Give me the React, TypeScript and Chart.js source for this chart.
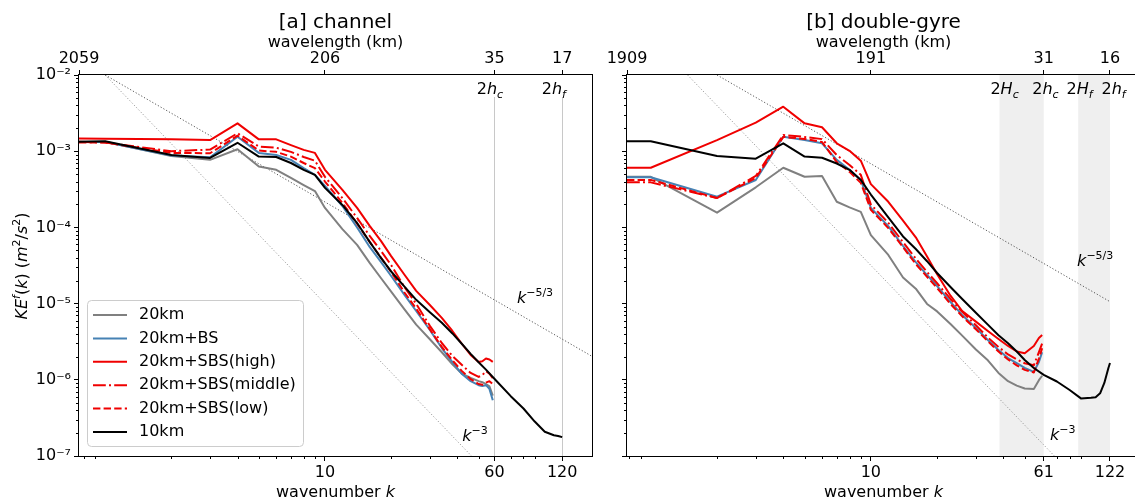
import React, { useEffect, useRef } from 'react';
import { Chart, registerables } from 'chart.js';

Chart.register(...registerables);

const FONT = "'DejaVu Sans', 'Liberation Sans', sans-serif";
Chart.defaults.font.family = FONT;
Chart.defaults.color = '#000';

/* ---------------- [a] channel ---------------- */
const kA20 = [0.76, 1, 2, 3, 4, 5, 6, 7, 8, 9, 10, 12, 14, 16, 18, 20, 23, 26, 30, 34, 38, 42, 46, 50, 52, 54, 56, 58];
const a20km = [1.33e-3, 1.33e-3, 8.65e-4, 7.7e-4, 1.06e-3, 6.3e-4, 5.7e-4, 4.45e-4, 3.6e-4, 3.0e-4, 1.8e-4, 9.5e-5, 5.9e-5, 3.4e-5, 2.15e-5, 1.44e-5, 8.4e-6, 5.3e-6, 3.4e-6, 2.3e-6, 1.6e-6, 1.2e-6, 1.06e-6, 9.6e-7, 9.3e-7, 8.8e-7, 8.2e-7, 6.2e-7];
const a20kmBS = [1.32e-3, 1.32e-3, 8.8e-4, 8.3e-4, 1.55e-3, 9.5e-4, 8.9e-4, 7.7e-4, 6.0e-4, 4.9e-4, 3.5e-4, 1.91e-4, 1.0e-4, 5.5e-5, 3.5e-5, 2.3e-5, 1.3e-5, 8.0e-6, 4.5e-6, 2.61e-6, 1.71e-6, 1.19e-6, 9.6e-7, 8.5e-7, 8.3e-7, 8.5e-7, 7.6e-7, 5.4e-7];
const a20kmHigh = [1.47e-3, 1.46e-3, 1.44e-3, 1.4e-3, 2.32e-3, 1.43e-3, 1.43e-3, 1.2e-3, 1.04e-3, 9.5e-4, 5.7e-4, 3.1e-4, 1.8e-4, 1.04e-4, 6.6e-5, 4.2e-5, 2.39e-5, 1.47e-5, 9.6e-6, 6.5e-6, 4.37e-6, 2.95e-6, 2.12e-6, 1.71e-6, 1.75e-6, 1.9e-6, 1.85e-6, 1.72e-6];
const a20kmMid = [1.33e-3, 1.3e-3, 1.0e-3, 1.05e-3, 1.72e-3, 1.15e-3, 1.11e-3, 9.8e-4, 8.4e-4, 7.5e-4, 4.6e-4, 2.43e-4, 1.33e-4, 7.7e-5, 4.9e-5, 3.2e-5, 1.65e-5, 9.9e-6, 5.1e-6, 3.04e-6, 2.05e-6, 1.56e-6, 1.23e-6, 1.09e-6, 1.15e-6, 1.3e-6, 1.2e-6, 1.05e-6];
const a20kmLow = [1.3e-3, 1.3e-3, 9.5e-4, 9.4e-4, 1.6e-3, 1.02e-3, 9.8e-4, 8.5e-4, 7.0e-4, 6.0e-4, 4.0e-4, 2.1e-4, 1.12e-4, 6.4e-5, 4.0e-5, 2.6e-5, 1.4e-5, 8.6e-6, 4.6e-6, 2.7e-6, 1.8e-6, 1.3e-6, 1.02e-6, 8.8e-7, 8.6e-7, 9.2e-7, 9.6e-7, 8.8e-7];
const kA10 = [0.76, 1, 2, 3, 4, 5, 6, 7, 8, 9, 10, 12, 14, 16, 18, 20, 23, 26, 30, 34, 38, 42, 46, 50, 54, 60, 70, 80, 90, 100, 110, 115, 120];
const a10km = [1.33e-3, 1.35e-3, 8.9e-4, 8.15e-4, 1.29e-3, 8.5e-4, 8.4e-4, 7.0e-4, 5.7e-4, 4.9e-4, 3.3e-4, 1.97e-4, 1.14e-4, 6.4e-5, 3.96e-5, 2.64e-5, 1.67e-5, 1.12e-5, 7.7e-6, 5.6e-6, 4.06e-6, 2.95e-6, 2.19e-6, 1.7e-6, 1.36e-6, 9.8e-7, 6.1e-7, 4.2e-7, 2.83e-7, 2.08e-7, 1.87e-7, 1.83e-7, 1.77e-7];
const aRef53K = [1, 200];
const aRef53E = [1e-2, 1.46e-6];
const aRef3K = [1, 60];
const aRef3E = [1e-2, 4.63e-8];
const aBottomTicks = [10, 59, 120];
const aBottomLabels = ['10', '60', '120'];
const aTopTicks = [0.76, 10, 59, 120];
const aTopLabels = ['2059', '206', '35', '17'];

/* ---------------- [b] double-gyre ---------------- */
const kB20 = [0.78, 1, 2, 3, 4, 5, 6, 7, 8, 9, 10, 12, 14, 16, 18, 20, 23, 26, 30, 34, 38, 42, 46, 50, 55, 58, 60];
const b20km = [4.62e-4, 4.62e-4, 1.56e-4, 3.36e-4, 6.07e-4, 4.62e-4, 4.73e-4, 2.17e-4, 1.83e-4, 1.6e-4, 7.9e-5, 4.35e-5, 2.2e-5, 1.57e-5, 9.9e-6, 7.9e-6, 5.4e-6, 3.8e-6, 2.5e-6, 1.8e-6, 1.23e-6, 9.6e-7, 8.4e-7, 7.7e-7, 7.6e-7, 9.9e-7, 1.13e-6];
const b20kmBS = [4.54e-4, 4.54e-4, 2.53e-4, 4.19e-4, 1.55e-3, 1.4e-3, 1.27e-3, 7.7e-4, 5.7e-4, 4.19e-4, 1.8e-4, 1.04e-4, 5.7e-5, 3.51e-5, 2.37e-5, 1.7e-5, 1.05e-5, 7.1e-6, 4.79e-6, 3.33e-6, 2.46e-6, 1.93e-6, 1.66e-6, 1.43e-6, 1.27e-6, 1.71e-6, 2.3e-6];
const b20kmHigh = [6.07e-4, 6.07e-4, 1.4e-3, 2.37e-3, 3.84e-3, 2.32e-3, 2.06e-3, 1.27e-3, 1.01e-3, 7.5e-4, 3.7e-4, 2.17e-4, 1.23e-4, 7.4e-5, 4.14e-5, 2.43e-5, 1.27e-5, 8.0e-6, 5.8e-6, 4.37e-6, 3.43e-6, 2.78e-6, 2.35e-6, 2.23e-6, 2.78e-6, 3.54e-6, 3.87e-6];
const b20kmMid = [3.9e-4, 3.9e-4, 2.43e-4, 4.73e-4, 1.63e-3, 1.54e-3, 1.44e-3, 8.9e-4, 6.6e-4, 4.9e-4, 2.0e-4, 1.15e-4, 6.4e-5, 3.9e-5, 2.6e-5, 1.85e-5, 1.15e-5, 7.8e-6, 5.2e-6, 3.6e-6, 2.7e-6, 2.15e-6, 1.85e-6, 1.65e-6, 1.55e-6, 2.3e-6, 3.0e-6];
const b20kmLow = [4.2e-4, 4.2e-4, 2.43e-4, 4.45e-4, 1.54e-3, 1.45e-3, 1.32e-3, 7.2e-4, 5.35e-4, 3.84e-4, 1.7e-4, 9.8e-5, 5.5e-5, 3.3e-5, 2.25e-5, 1.6e-5, 9.9e-6, 6.8e-6, 4.6e-6, 3.2e-6, 2.35e-6, 1.85e-6, 1.55e-6, 1.35e-6, 1.25e-6, 1.9e-6, 2.6e-6];
const kB10 = [0.78, 1, 2, 3, 4, 5, 6, 7, 8, 9, 10, 12, 14, 16, 18, 20, 23, 26, 30, 34, 38, 42, 46, 50, 55, 61, 70, 80, 90, 100, 105, 110, 115, 120, 122];
const b10km = [1.35e-3, 1.35e-3, 8.65e-4, 7.98e-4, 1.27e-3, 8.5e-4, 8.2e-4, 6.9e-4, 5.7e-4, 4.2e-4, 2.7e-4, 1.35e-4, 7.6e-5, 5.2e-5, 3.6e-5, 2.52e-5, 1.65e-5, 1.15e-5, 7.6e-6, 5.3e-6, 3.84e-6, 3.01e-6, 2.35e-6, 1.82e-6, 1.43e-6, 1.16e-6, 9.5e-7, 7.35e-7, 5.7e-7, 5.8e-7, 5.9e-7, 6.65e-7, 9.1e-7, 1.43e-6, 1.66e-6];
const bRef53K = [2, 122];
const bRef53E = [1e-2, 1.06e-5];
const bRef3K = [1.47, 80];
const bRef3E = [1e-2, 6.2e-8];
const bBottomTicks = [10, 61, 122];
const bBottomLabels = ['10', '61', '122'];
const bTopTicks = [0.78, 10, 61, 122];
const bTopLabels = ['1909', '191', '31', '16'];
const bBands = [[38.4, 61], [87.5, 122]];

/* ---------------- shared ---------------- */
const yTickValues = [1e-7, 1e-6, 1e-5, 1e-4, 1e-3, 1e-2];
const yTickLabels = ['10⁻⁷', '10⁻⁶', '10⁻⁵', '10⁻⁴', '10⁻³', '10⁻²'];
const legendLabels = ['20km', '20km+BS', '20km+SBS(high)', '20km+SBS(middle)', '20km+SBS(low)', '10km'];

const RED = '#f00000';
const styles = [
  { color: '#808080', dash: [] as number[] },
  { color: '#4682b4', dash: [] as number[] },
  { color: RED, dash: [] as number[] },
  { color: RED, dash: [12.8, 3.2, 2, 3.2] },
  { color: RED, dash: [7.4, 3.2] },
  { color: '#000000', dash: [] as number[] },
];

type Seg = { t: string; i?: boolean; s?: 'sup' | 'sub' };

function segFont(size: number, g: Seg) {
  const sz = g.s ? Math.round(size * 0.7) : size;
  return `${g.i ? 'italic ' : ''}${sz}px ${FONT}`;
}
function richWidth(ctx: CanvasRenderingContext2D, segs: Seg[], size: number) {
  let w = 0;
  for (const g of segs) {
    ctx.font = segFont(size, g);
    w += ctx.measureText(g.t).width;
  }
  return w;
}
function drawRich(ctx: CanvasRenderingContext2D, segs: Seg[], x: number, y: number, size: number, align: 'left' | 'center' | 'right' = 'left') {
  const w = richWidth(ctx, segs, size);
  let cx = align === 'center' ? x - w / 2 : align === 'right' ? x - w : x;
  ctx.textAlign = 'left';
  ctx.textBaseline = 'alphabetic';
  for (const g of segs) {
    ctx.font = segFont(size, g);
    const dy = g.s === 'sup' ? -size * 0.42 : g.s === 'sub' ? size * 0.22 : 0;
    ctx.fillText(g.t, cx, y + dy);
    cx += ctx.measureText(g.t).width;
  }
}

function series(label: string, ks: number[], vs: number[], idx: number) {
  const st = styles[idx];
  return {
    label,
    data: ks.map((k, i) => ({ x: k, y: vs[i] })),
    borderColor: st.color,
    borderWidth: 2,
    borderDash: st.dash,
    borderCapStyle: 'butt',
    borderJoinStyle: 'round',
    pointRadius: 0,
    fill: false,
    tension: 0,
    clip: 0,
    xAxisID: 'x',
    yAxisID: 'y',
  };
}
function refLine(ks: number[], es: number[], color: string) {
  return {
    label: 'ref',
    data: ks.map((k, i) => ({ x: k, y: es[i] })),
    borderColor: color,
    borderWidth: 1,
    borderDash: [1.2, 2],
    pointRadius: 0,
    fill: false,
    tension: 0,
    clip: 0,
    xAxisID: 'x',
    yAxisID: 'y',
  };
}

interface Note { segs: Seg[]; k: number; e?: number; top?: number; align: 'left' | 'center' }
interface PanelCfg {
  title: string;
  kMin: number;
  kMax: number;
  bottomTicks: number[];
  bottomLabels: string[];
  topTicks: number[];
  topLabels: string[];
  datasets: any[];
  yLabels: boolean;
  yWidth: number;
  padRight: number;
  canvasWidth: number;
  vlines: number[];
  bands: number[][];
  notes: Note[];
  legend: boolean;
}

const K53: Seg[] = [{ t: 'k', i: true }, { t: '−5/3', s: 'sup' }];
const K3: Seg[] = [{ t: 'k', i: true }, { t: '−3', s: 'sup' }];

const panelA: PanelCfg = {
  title: '[a] channel',
  kMin: 0.76,
  kMax: 164,
  bottomTicks: aBottomTicks,
  bottomLabels: aBottomLabels,
  topTicks: aTopTicks,
  topLabels: aTopLabels,
  datasets: [
    series(legendLabels[5], kA10, a10km, 5),
    series(legendLabels[4], kA20, a20kmLow, 4),
    series(legendLabels[3], kA20, a20kmMid, 3),
    series(legendLabels[2], kA20, a20kmHigh, 2),
    series(legendLabels[1], kA20, a20kmBS, 1),
    series(legendLabels[0], kA20, a20km, 0),
    refLine(aRef53K, aRef53E, '#555555'),
    refLine(aRef3K, aRef3E, '#9a9a9a'),
  ],
  yLabels: true,
  yWidth: 79,
  padRight: 8,
  canvasWidth: 600,
  vlines: [59, 120],
  bands: [],
  notes: [
    { segs: [{ t: '2' }, { t: 'h', i: true }, { t: 'c', i: true, s: 'sub' }], k: 56.3, top: 19, align: 'center' },
    { segs: [{ t: '2' }, { t: 'h', i: true }, { t: 'f', i: true, s: 'sub' }], k: 110, top: 19, align: 'center' },
    { segs: K53, k: 74.7, e: 1.02e-5, align: 'left' },
    { segs: K3, k: 42.1, e: 1.57e-7, align: 'left' },
  ],
  legend: true,
};

const panelB: PanelCfg = {
  title: '[b] double-gyre',
  kMin: 0.78,
  kMax: 167,
  bottomTicks: bBottomTicks,
  bottomLabels: bBottomLabels,
  topTicks: bTopTicks,
  topLabels: bTopLabels,
  datasets: [
    series(legendLabels[5], kB10, b10km, 5),
    series(legendLabels[4], kB20, b20kmLow, 4),
    series(legendLabels[3], kB20, b20kmMid, 3),
    series(legendLabels[2], kB20, b20kmHigh, 2),
    series(legendLabels[1], kB20, b20kmBS, 1),
    series(legendLabels[0], kB20, b20km, 0),
    refLine(bRef53K, bRef53E, '#555555'),
    refLine(bRef3K, bRef3E, '#9a9a9a'),
  ],
  yLabels: false,
  yWidth: 27,
  padRight: 5,
  canvasWidth: 545,
  vlines: [],
  bands: bBands,
  notes: [
    { segs: [{ t: '2' }, { t: 'H', i: true }, { t: 'c', i: true, s: 'sub' }], k: 40.5, top: 19, align: 'center' },
    { segs: [{ t: '2' }, { t: 'h', i: true }, { t: 'c', i: true, s: 'sub' }], k: 62.1, top: 19, align: 'center' },
    { segs: [{ t: '2' }, { t: 'H', i: true }, { t: 'f', i: true, s: 'sub' }], k: 88.8, top: 19, align: 'center' },
    { segs: [{ t: '2' }, { t: 'h', i: true }, { t: 'f', i: true, s: 'sub' }], k: 126.7, top: 19, align: 'center' },
    { segs: K53, k: 86.5, e: 3.11e-5, align: 'left' },
    { segs: K3, k: 65.1, e: 1.62e-7, align: 'left' },
  ],
  legend: false,
};

function axis(position: string, min: number, max: number, values: number[], labels: string[], size: number, pad: number) {
  const horizontal = position === 'top' || position === 'bottom';
  return {
    type: 'logarithmic',
    position,
    min,
    max,
    bounds: 'data',
    afterBuildTicks: (s: any) => {
      s.ticks = values.map((v) => ({ value: v }));
    },
    ticks: {
      autoSkip: false,
      maxRotation: 0,
      minRotation: 0,
      padding: pad,
      color: '#000',
      font: { size: 16, family: FONT },
      callback: (_v: any, i: number) => (labels[i] !== undefined ? labels[i] : ''),
    },
    grid: { display: true, drawOnChartArea: false, drawTicks: true, tickLength: 5, tickColor: '#000', tickWidth: 1, color: '#000' },
    border: { display: false },
    afterFit: (s: any) => {
      if (horizontal) s.height = size;
      else s.width = size;
    },
  };
}

function makePlugin(cfg: PanelCfg) {
  return {
    id: 'decor',
    beforeDatasetsDraw(chart: any) {
      const { ctx, chartArea: a } = chart;
      const xs = chart.scales.x;
      ctx.save();
      ctx.fillStyle = '#efefef';
      for (const b of cfg.bands) {
        const x0 = xs.getPixelForValue(b[0]);
        const x1 = xs.getPixelForValue(b[1]);
        ctx.fillRect(x0, a.top, x1 - x0, a.bottom - a.top);
      }
      ctx.strokeStyle = '#c8c8c8';
      ctx.lineWidth = 1;
      for (const k of cfg.vlines) {
        const px = Math.round(xs.getPixelForValue(k)) + 0.5;
        ctx.beginPath();
        ctx.moveTo(px, a.top + 22);
        ctx.lineTo(px, a.bottom);
        ctx.stroke();
      }
      ctx.restore();
    },
    afterDraw(chart: any) {
      const { ctx, chartArea: a } = chart;
      const xs = chart.scales.x;
      const ys = chart.scales.y;
      ctx.save();
      // frame
      ctx.strokeStyle = '#000';
      ctx.lineWidth = 1;
      ctx.strokeRect(Math.round(a.left) - 0.5, Math.round(a.top) - 0.5, Math.round(a.right - a.left) + 1, Math.round(a.bottom - a.top) + 1);
      // minor ticks
      ctx.beginPath();
      for (let n = -7; n < -2; n++) {
        for (let m = 2; m < 10; m++) {
          const py = Math.round(ys.getPixelForValue(m * Math.pow(10, n))) + 0.5;
          ctx.moveTo(a.left - 3, py);
          ctx.lineTo(a.left, py);
        }
      }
      const minorX: number[] = [];
      for (let n = -1; n < 3; n++) for (let m = 1; m < 10; m++) minorX.push(m * Math.pow(10, n));
      for (const v of minorX) {
        if (v < cfg.kMin || v > cfg.kMax) continue;
        if (Math.abs(Math.log10(v) - Math.round(Math.log10(v))) < 1e-9) continue;
        const px = xs.getPixelForValue(v);
        if (cfg.bottomTicks.some((t) => Math.abs(xs.getPixelForValue(t) - px) < 3)) continue;
        const rx = Math.round(px) + 0.5;
        ctx.moveTo(rx, a.bottom);
        ctx.lineTo(rx, a.bottom + 3);
      }
      ctx.stroke();

      const cx = (a.left + a.right) / 2;
      ctx.fillStyle = '#000';
      ctx.textAlign = 'center';
      ctx.textBaseline = 'alphabetic';
      ctx.font = `20px ${FONT}`;
      ctx.fillText(cfg.title, cx, 28);
      ctx.font = `16px ${FONT}`;
      ctx.fillText('wavelength (km)', cx, 47);
      drawRich(ctx, [{ t: 'wavenumber ' }, { t: 'k', i: true }], cx, 497, 16, 'center');

      if (cfg.yLabels) {
        ctx.save();
        ctx.translate(27, 266);
        ctx.rotate(-Math.PI / 2);
        drawRich(
          ctx,
          [
            { t: 'KE', i: true },
            { t: 'f', i: true, s: 'sup' },
            { t: '(' },
            { t: 'k', i: true },
            { t: ')' },
            { t: ' (' },
            { t: 'm', i: true },
            { t: '2', s: 'sup' },
            { t: '/' },
            { t: 's', i: true },
            { t: '2', s: 'sup' },
            { t: ')' },
          ],
          0,
          0,
          16,
          'center'
        );
        ctx.restore();
      }

      for (const nt of cfg.notes) {
        const x = xs.getPixelForValue(nt.k);
        const y = nt.top !== undefined ? a.top + nt.top : ys.getPixelForValue(nt.e);
        drawRich(ctx, nt.segs, x, y, 16, nt.align);
      }

      if (cfg.legend) {
        const bx = 87, by = 300, bw = 216, bh = 146, r = 4;
        ctx.fillStyle = 'rgba(255,255,255,0.85)';
        ctx.strokeStyle = '#cccccc';
        ctx.lineWidth = 1;
        ctx.beginPath();
        ctx.moveTo(bx + r + 0.5, by + 0.5);
        ctx.arcTo(bx + bw + 0.5, by + 0.5, bx + bw + 0.5, by + bh + 0.5, r);
        ctx.arcTo(bx + bw + 0.5, by + bh + 0.5, bx + 0.5, by + bh + 0.5, r);
        ctx.arcTo(bx + 0.5, by + bh + 0.5, bx + 0.5, by + 0.5, r);
        ctx.arcTo(bx + 0.5, by + 0.5, bx + bw + 0.5, by + 0.5, r);
        ctx.closePath();
        ctx.fill();
        ctx.stroke();
        legendLabels.forEach((lab, i) => {
          const yc = 315 + i * 23.4;
          const st = styles[i];
          ctx.strokeStyle = st.color;
          ctx.lineWidth = 2;
          ctx.setLineDash(st.dash);
          ctx.lineCap = 'butt';
          ctx.beginPath();
          ctx.moveTo(93, yc);
          ctx.lineTo(127, yc);
          ctx.stroke();
          ctx.setLineDash([]);
          ctx.fillStyle = '#000';
          ctx.font = `16px ${FONT}`;
          ctx.textAlign = 'left';
          ctx.textBaseline = 'middle';
          ctx.fillText(lab, 139, yc);
        });
      }
      ctx.restore();
    },
  };
}

function Panel({ cfg, left }: { cfg: PanelCfg; left: number }) {
  const ref = useRef<HTMLCanvasElement>(null);
  useEffect(() => {
    const chart = new Chart(ref.current as HTMLCanvasElement, {
      type: 'line',
      data: { datasets: cfg.datasets },
      options: {
        animation: false,
        responsive: false,
        devicePixelRatio: 1,
        events: [],
        layout: { padding: { left: 0, right: cfg.padRight, top: 0, bottom: 0 } },
        plugins: { legend: { display: false }, title: { display: false }, tooltip: { enabled: false } },
        scales: {
          x: axis('bottom', cfg.kMin, cfg.kMax, cfg.bottomTicks, cfg.bottomLabels, 46, 2),
          x2: axis('top', cfg.kMin, cfg.kMax, cfg.topTicks, cfg.topLabels, 75, 2),
          y: axis('left', 1e-7, 1e-2, yTickValues, cfg.yLabels ? yTickLabels : [], cfg.yWidth, 3),
        },
      } as any,
      plugins: [makePlugin(cfg)],
    } as any);
    return () => chart.destroy();
  }, []);
  return (
    <canvas
      ref={ref}
      width={cfg.canvasWidth}
      height={502}
      style={{ position: 'absolute', left, top: 0, width: cfg.canvasWidth, height: 502 }}
    />
  );
}

export default function App() {
  return (
    <div style={{ position: 'absolute', left: 0, top: 0, width: 1135, height: 502, overflow: 'hidden', background: '#fff' }}>
      <Panel cfg={panelA} left={0} />
      <Panel cfg={panelB} left={600} />
    </div>
  );
}
